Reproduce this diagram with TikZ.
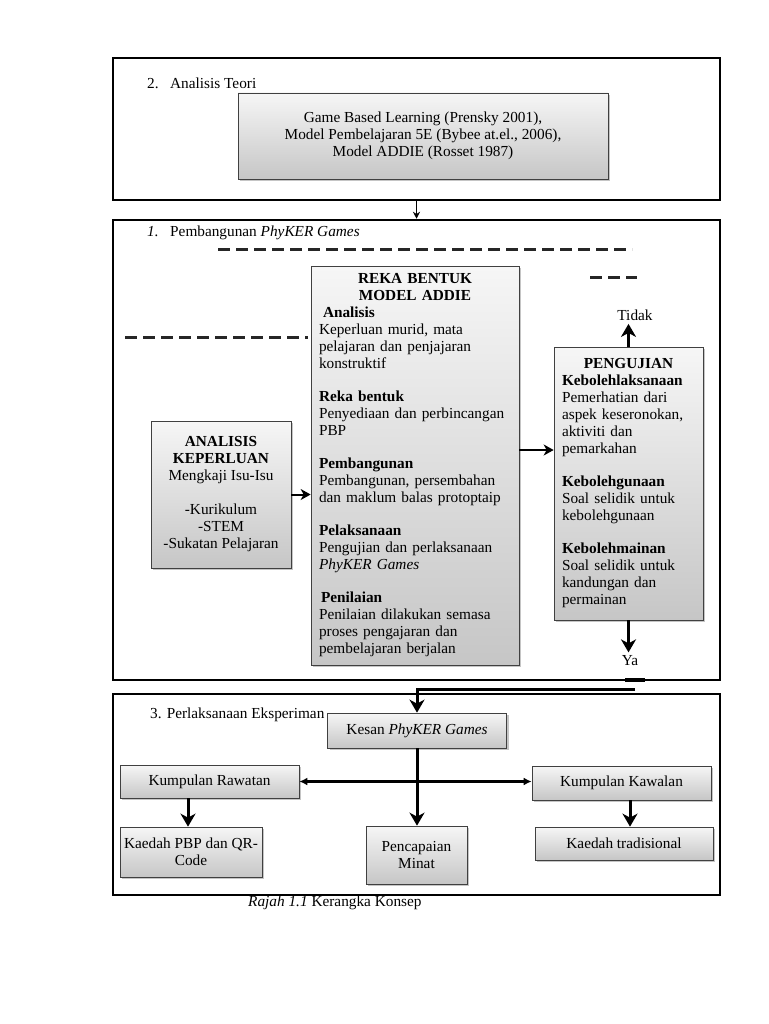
\documentclass[tikz,border=0pt]{standalone}
\usepackage{fontspec}
\setmainfont{Liberation Serif}
\usetikzlibrary{arrows.meta,shadows}
\setlength\parindent{0pt}
\definecolor{box_top}{RGB}{246, 246, 246}
\definecolor{box_bot}{RGB}{198, 198, 198}
\tikzstyle{frame}=[draw=black,line width=2.5pt,inner sep=0pt]
\tikzstyle{gb}=[draw=black!75,line width=0.7pt,top color=box_top,bottom color=box_bot,
  drop shadow={shadow xshift=2pt,shadow yshift=-2pt,opacity=0.45},inner sep=0pt]
\tikzstyle{dl}=[line width=3pt,black!85,dash pattern=on 12pt off 6pt]
\tikzstyle{bigarr}=[line width=3pt,-{Stealth[length=13pt,width=15pt,inset=4pt]}]
\tikzstyle{midarr}=[line width=2pt,-{Stealth[length=10pt,width=11pt,inset=3pt]}]
\tikzstyle{thinarr}=[line width=1.5pt,-{Stealth[length=7pt,width=7pt]}]
\tikzstyle{lbl}=[inner sep=0pt,anchor=west]

\begin{document}
\begin{tikzpicture}[x=1pt,y=-1pt,font=\fontsize{15.3}{17}\selectfont]
    \fill[white] (0,0) rectangle (768,1024);
    \useasboundingbox (0,0) rectangle (768,1024);
    % outer frames
    \node [style=frame,minimum width=607pt,minimum height=142pt] (teori) at (416.5,129) {};
    \node [style=frame,minimum width=607pt,minimum height=460pt] (bina) at (416.5,450) {};
    \node [style=frame,minimum width=607pt,minimum height=201pt] (eksp) at (416.5,794.5) {};
    \node [style=lbl] (t2) at (147,83) {\makebox[23pt][l]{2.}Analisis Teori};
    \node [style=lbl] (t1) at (147,233) {\makebox[23pt][l]{\textit{1.}}Pembangunan \textit{PhyKER Games}};
    \node [style=lbl] (t3) at (150,715) {3. Perlaksanaan Eksperiman};
    \node [style=lbl] (cap) at (248,903) {\textit{Rajah 1.1} Kerangka Konsep};
    % 2. analisis teori
    \node [style=gb,align=center,minimum width=370pt,minimum height=86pt] (teoribox) at (423,136)
      {Game Based Learning (Prensky 2001),\\Model Pembelajaran 5E (Bybee at.el., 2006),\\Model ADDIE (Rosset 1987)};
    % 1. pembangunan
    \node [style=gb,align=center,minimum width=140pt,minimum height=147pt] (keperluan) at (221,494.5)
      {\textbf{ANALISIS}\\\textbf{KEPERLUAN}\\Mengkaji Isu-Isu\\[17pt]-Kurikulum\\-STEM\\-Sukatan Pelajaran};
    \node [style=gb,minimum width=208pt,minimum height=399pt,text width=192pt] (reka) at (415,465.5)
      {{\centering\bfseries REKA BENTUK\\MODEL ADDIE\par}\raggedright
       \hspace*{4pt}\textbf{Analisis}\\
       Keperluan murid, mata\\
       pelajaran dan penjajaran\\
       konstruktif\\[16pt]
       \textbf{Reka bentuk}\\
       Penyediaan dan perbincangan\\
       PBP\\[16pt]
       \textbf{Pembangunan}\\
       Pembangunan, persembahan\\
       dan maklum balas protoptaip\\[16pt]
       \textbf{Pelaksanaan}\\
       Pengujian dan perlaksanaan\\
       \textit{PhyKER Games}\\[16pt]
       \hspace*{2pt}\textbf{Penilaian}\\
       Penilaian dilakukan semasa\\
       proses pengajaran dan\\
       pembelajaran berjalan};
    \node [style=gb,minimum width=149pt,minimum height=273pt,text width=133pt] (peng) at (628.5,483.5)
      {{\centering\bfseries PENGUJIAN\par}\raggedright
       \textbf{Kebolehlaksanaan}\\
       Pemerhatian dari\\
       aspek keseronokan,\\
       aktiviti dan\\
       pemarkahan\\[16pt]
       \textbf{Kebolehgunaan}\\
       Soal selidik untuk\\
       kebolehgunaan\\[16pt]
       \textbf{Kebolehmainan}\\
       Soal selidik untuk\\
       kandungan dan\\
       permainan};
    \node (tidak) at (635,315) {Tidak};
    \node (ya) at (630,661) {Ya};
    \draw [style=dl] (218,249) -- (632,249);
    \draw [style=dl] (125,337) -- (308,337);
    \draw [style=dl] (590,277) -- (637,277);
    \draw [line width=3.5pt] (625,680) -- (645,680);
    % 3. perlaksanaan eksperimen
    \node [style=gb,minimum width=179pt,minimum height=35pt] (kesan) at (417,730.5) {Kesan \textit{PhyKER Games}};
    \node [style=gb,minimum width=179pt,minimum height=33pt] (rawatan) at (209.5,781.5) {Kumpulan Rawatan};
    \node [style=gb,minimum width=179pt,minimum height=34pt] (kawalan) at (621.5,783) {Kumpulan Kawalan};
    \node [style=gb,align=center,minimum width=142pt,minimum height=50pt] (pbp) at (191,852) {Kaedah PBP dan QR-\\Code};
    \node [style=gb,align=center,minimum width=101pt,minimum height=58pt] (pencapaian) at (416.5,855) {Pencapaian\\Minat};
    \node [style=gb,minimum width=178pt,minimum height=33pt] (tradisi) at (624,843.5) {Kaedah tradisional};
    % connectors
    \draw [style=thinarr] (teori.south) -- (bina.north);
    \draw [style=midarr] (keperluan.east) -- (keperluan.east -| reka.west);
    \coordinate (rekaout) at ([yshift=15.5pt]reka.east);
    \draw [style=midarr] (rekaout) -- (rekaout -| peng.west);
    \draw [style=bigarr] (peng.north) -- (peng.north |- tidak.south);
    \draw [style=bigarr] (peng.south) -- (peng.south |- ya.north);
    \coordinate (yaend) at (635,689);
    \draw [style=bigarr] (yaend) -| (kesan.north);
    \draw [style=bigarr] (kesan.south) -- (kesan.south |- pencapaian.north);
    \draw [line width=3pt,{Latex[length=8pt,width=8pt]}-{Latex[length=8pt,width=8pt]}] (rawatan.east) -- (rawatan.east -| kawalan.west);
    \coordinate (rawout) at ([xshift=-21.5pt]rawatan.south);
    \draw [style=bigarr] (rawout) -- (rawout |- pbp.north);
    \coordinate (kawout) at ([xshift=8.5pt]kawalan.south);
    \draw [style=bigarr] (kawout) -- (kawout |- tradisi.north);
  \end{tikzpicture}
\end{document}
